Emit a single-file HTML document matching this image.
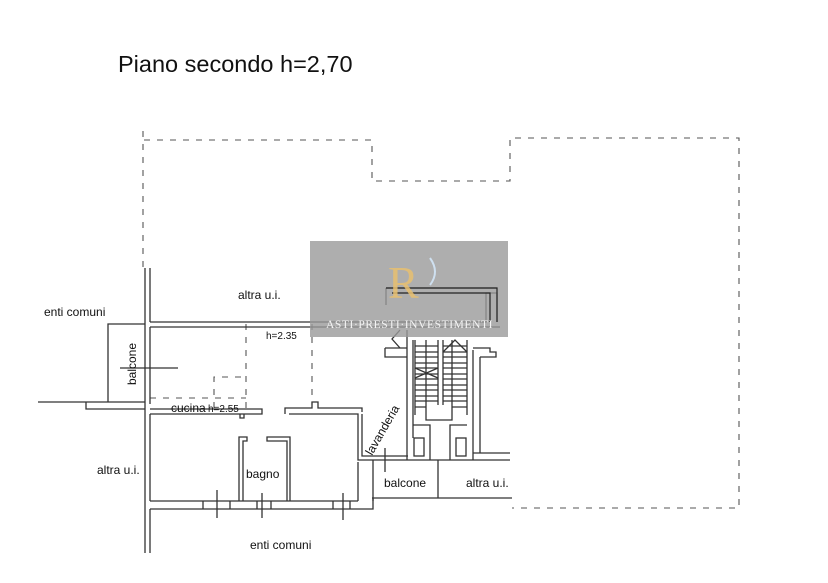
<!DOCTYPE html>
<html><head><meta charset="utf-8"><style>
html,body{margin:0;padding:0;background:#fff;width:828px;height:583px;overflow:hidden}
svg{display:block}
text{font-family:"Liberation Sans",sans-serif;fill:#111}
</style></head><body>
<svg width="828" height="583" viewBox="0 0 828 583" xmlns="http://www.w3.org/2000/svg">
<text x="118" y="72" font-size="23.5">Piano secondo h=2,70</text>
<g fill="none" stroke="#555" stroke-width="1.1" stroke-dasharray="6,7">
<path d="M143 131 V270"/>
<path d="M144 140 H372 V181 H510 V138 H739 V508 H512"/>
<path d="M246 324 V408 M312 324 V405 M150 398 H246 M214 408 V377 H246"/>
</g>
<g fill="none" stroke="#333" stroke-width="1.3">
<path d="M145 268 V553 M150 268 V322 M150 327 V404 M150 414 V501 M150 509 V553"/>
<path d="M150 322 H486 V293 H497 V322 M150 327 H500"/>
<path d="M386 288 H497 M386 288 V305"/>
<path d="M108 402 V324 H145 M38 402 H86 V409 H145 M86 402 H145"/>
<path d="M120 368 H178"/>
<path d="M150 409 H262 V414 H150 M240 414 V418 H244 V414"/>
<path d="M285 414 V408 H312 V402 H318 V408 H362 V412"/>
<path d="M289 414 H358 V460 H372 M362 414 V456 H408"/>
<path d="M239 501 V437 H247 V441 H243 V501 M290 501 V437 H267 V441 H287 V501"/>
<path d="M150 501 H358 M150 509 H373 V460 M358 501 V462"/>
<path d="M203 501 V509 M230 501 V509 M257 501 V509 M271 501 V509 M333 501 V509 M350 501 V509"/>
<path d="M217 490 V518 M262 493 V518 M343 493 V520 M385 448 V472"/>
<path d="M372 460 H510 M372 498 H512 M438 460 V498 M373 501 V498"/>
<path d="M407 330 V460 M413 340 V438 M473 350 V460 M480 357 V453 H510 M473 453 H480"/>
<path d="M385 348 H407 M385 348 V357 H407 M473 348 H490 V352 H496 V357 H480"/>
<path d="M415 340 V415 M438 340 V405 M443 340 V405 M467 340 V415 M426 340 V420 H452 V340"/>
<path d="M415 346 H438 M415 352 H438 M415 357 H438 M415 363 H438 M415 368 H438 M415 374 H438 M415 379 H438 M415 385 H438 M415 390 H438 M415 396 H438 M415 401 H438 M415 407 H426"/>
<path d="M443 346 H467 M443 352 H467 M443 357 H467 M443 363 H467 M443 368 H467 M443 374 H467 M443 379 H467 M443 385 H467 M443 390 H467 M443 396 H467 M443 401 H467 M452 407 H467"/>
<path d="M443 352 L455 340 L467 352 M415 368 L438 378 M438 368 L415 378"/>
<path d="M413 425 H430 L430 460 M467 425 H450 L450 460"/>
<rect x="414" y="438" width="10" height="18"/>
<rect x="456" y="438" width="10" height="18"/>
<path d="M400 330 L392 339 L400 348"/>
</g>
<rect x="310" y="241" width="198" height="96" fill="#9a9a9a" opacity="0.8"/>
<path d="M386 288 H497 V322 M392 293 H490 V322" stroke="#222" fill="none" stroke-width="1.2"/>
<text x="388" y="298" font-size="46" style="font-family:'Liberation Serif',serif;fill:#e8c070" opacity="0.85">R</text>
<path d="M430 258 Q440 272 430 285" stroke="#cfe0f0" stroke-width="2" fill="none"/>
<text x="326" y="328" font-size="11.5" style="font-family:'Liberation Serif',serif;fill:#f4f4f4;letter-spacing:0.6px">ASTI·PRESTI·INVESTIMENTI</text>
<text x="44" y="316" font-size="12">enti comuni</text>
<text x="238" y="299" font-size="12">altra u.i.</text>
<text x="266" y="339" font-size="10">h=2.35</text>
<text x="136" y="385" font-size="12" transform="rotate(-90 136 385)">balcone</text>
<text x="171" y="412" font-size="12">cucina</text>
<text x="208" y="412" font-size="10">h=2.55</text>
<text x="97" y="474" font-size="12">altra u.i.</text>
<text x="246" y="478" font-size="12">bagno</text>
<text x="250" y="549" font-size="12">enti comuni</text>
<text x="372" y="456" font-size="12" transform="rotate(-60 372 456)">lavanderia</text>
<text x="384" y="487" font-size="12">balcone</text>
<text x="466" y="487" font-size="12">altra u.i.</text>
</svg>
</body></html>
